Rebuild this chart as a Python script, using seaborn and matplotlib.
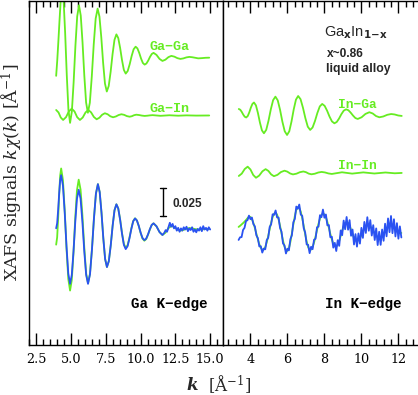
import numpy as np
import matplotlib
matplotlib.use("Agg")
import matplotlib.pyplot as plt
from matplotlib.ticker import MultipleLocator, FormatStrFormatter
import seaborn as sns

# values, k in 1/A, signals in units of 1e-3

# --- Ga K-edge panel ---
k_gaga = [3.93, 4.01, 4.09, 4.17, 4.25, 4.34, 4.458, 4.576, 4.694, 4.812, 4.93, 5.058,
          5.186, 5.314, 5.442, 5.57, 5.698, 5.826, 5.954, 6.082, 6.21, 6.35, 6.49, 6.63,
          6.77, 6.91, 7.042, 7.174, 7.306, 7.438, 7.57, 7.708, 7.846, 7.984, 8.122, 8.26,
          8.394, 8.528, 8.662, 8.796, 8.93, 9.072, 9.214, 9.356, 9.498, 9.64, 9.77, 9.90,
          10.03, 10.16, 10.29, 10.418, 10.546, 10.674, 10.802, 10.93, 11.14, 11.36, 11.57,
          11.78, 12.00, 12.21, 12.43, 12.64, 12.86, 13.07, 13.29, 13.50, 13.71, 13.93,
          14.14, 14.40, 14.67, 14.93]
ga_ga = [-16, -2, 15, 33, 50, 65, 53.3, 22.5, -15.5, -46.3, -58, -48.0, -21.7, 10.7, 37.0,
         47, 37.8, 13.8, -15.8, -39.8, -49, -40.1, -16.9, 11.9, 35.1, 44, 36.9, 18.4, -4.4,
         -22.9, -30, -25.1, -12.4, 3.4, 16.1, 21, 17.7, 8.9, -1.9, -10.7, -14, -11.7, -5.7,
         1.7, 7.7, 10, 8.5, 4.5, -0.5, -4.5, -6, -5.0, -2.4, 0.9, 3.5, 4.5, 2.7, -0.9,
         -2.7, -1.6, 0.7, 1.8, 1.1, -0.2, -0.9, -0.45, 0.45, 0.9, 0.6, 0.1, -0.4, -0.2,
         0.1, 0.2]

k_gain = [3.93, 4.10, 4.26, 4.43, 4.64, 4.84, 5.05, 5.25, 5.44, 5.64, 5.84, 6.04, 6.24,
          6.44, 6.64, 6.84, 7.04, 7.23, 7.43, 7.63, 7.82, 8.02, 8.22, 8.42, 8.62, 8.82,
          9.01, 9.21, 9.37, 9.53, 9.69, 9.89, 10.09, 10.29, 10.48, 10.67, 10.86, 11.43,
          12.07, 12.70, 13.30, 14.00, 14.93]
ga_in = [4.9, 2.7, -1.8, -4.0, -1.5, 3.6, 6.1, 3.6, -1.5, -4.0, -1.8, 2.7, 4.9, 2.8,
         -1.3, -3.4, -2.0, 0.6, 2.0, 1.1, -0.7, -1.6, -0.9, 0.4, 1.1, 0.55, -0.55, -1.1,
         -0.65, 0.25, 0.7, 0.4, -0.1, -0.4, -0.2, 0.1, 0.3, -0.3, 0.2, -0.2, 0.1, -0.1, 0.0]

k_ga_fit = [3.93, 4.002, 4.074, 4.146, 4.218, 4.29, 4.418, 4.546, 4.674, 4.802, 4.93,
            5.054, 5.178, 5.302, 5.426, 5.55, 5.684, 5.818, 5.952, 6.086, 6.22, 6.362,
            6.504, 6.646, 6.788, 6.93, 7.06, 7.19, 7.32, 7.45, 7.58, 7.716, 7.852, 7.988,
            8.124, 8.26, 8.394, 8.528, 8.662, 8.796, 8.93, 9.064, 9.198, 9.332, 9.466, 9.6,
            9.734, 9.868, 10.002, 10.136, 10.27, 10.402, 10.534, 10.666, 10.798, 10.93,
            11.14, 11.36, 11.57, 11.78, 12.00, 12.21, 12.43, 12.64, 12.86, 13.07, 13.29,
            13.50, 13.71, 13.93, 14.14, 14.40, 14.67, 14.93]
ga_fit = [-14, -7.5, 9.5, 30.5, 47.5, 54, 43.6, 16.3, -17.3, -44.6, -55, -45.5, -20.8,
          9.8, 34.5, 44, 35.2, 12.0, -16.5, -39.7, -48.5, -40.0, -17.9, 9.4, 31.5, 40,
          32.9, 14.4, -8.4, -26.9, -34, -28.7, -14.7, 2.7, 16.7, 22, 18.3, 8.5, -3.5,
          -13.3, -17, -14.5, -7.8, 0.3, 7.0, 9.5, 7.6, 2.6, -3.6, -8.6, -10.5, -9.0, -5.1,
          -0.4, 3.5, 5, 2.4, -2.8, -5.4, -3.4, 0.7, 2.7, 1.6, -0.4, -1.5, -0.9, 0.2, 0.8,
          0.5, -0.2, -0.5, -0.4, -0.1, 0]

k_ga_exp = [3.93, 4.002, 4.074, 4.146, 4.218, 4.29, 4.418, 4.546, 4.674, 4.802, 4.93,
            5.054, 5.178, 5.302, 5.426, 5.55, 5.684, 5.818, 5.952, 6.086, 6.22, 6.362,
            6.504, 6.646, 6.788, 6.93, 7.06, 7.19, 7.32, 7.45, 7.58, 7.716, 7.852, 7.988,
            8.124, 8.26, 8.394, 8.528, 8.662, 8.796, 8.93, 9.064, 9.198, 9.332, 9.466, 9.6,
            9.734, 9.868, 10.002, 10.136, 10.27, 10.402, 10.534, 10.666, 10.798, 10.93,
            11.14, 11.36, 11.57,
            11.7, 11.8, 11.9, 12.0, 12.1, 12.2, 12.3, 12.4, 12.5, 12.6, 12.7, 12.8, 12.9,
            13.0, 13.1, 13.2, 13.3, 13.4, 13.5, 13.6, 13.7, 13.8, 13.9, 14.0, 14.1, 14.2,
            14.3, 14.4, 14.5, 14.6, 14.7, 14.8, 14.9, 15.0]
ga_exp = [0.6, 5.1, 17.0, 31.6, 43.5, 48, 38.7, 14.5, -15.5, -39.7, -49, -41.0, -20.0,
          6.0, 27.0, 35, 27.0, 6.0, -20.0, -41.0, -49, -40.5, -18.3, 9.3, 31.5, 40, 32.9,
          14.4, -8.4, -26.9, -34, -28.7, -14.7, 2.7, 16.7, 22, 18.2, 8.2, -4.2, -14.2, -18,
          -15.4, -8.5, -0.1, 6.8, 9.4, 7.5, 2.7, -3.3, -8.1, -10, -8.6, -4.8, -0.2, 3.6, 5,
          2.4, -2.8, -5.4,
          -3.5, -1.0, -2.5, 1.5, 5.5, 2.0, 4.5, 0.5, 2.5, -1.5, 1.0, -2.5, 0.5, -1.5, 1.5,
          -0.5, 2.0, -2.0, 0.5, -1.0, 1.5, -2.5, -0.5, -3.0, 0.0, -1.5, 1.5, -2.0, 2.5,
          -0.5, 1.0, -1.5, 1.5, -0.5]

# --- In K-edge panel ---
k_inga = [3.37, 3.45, 3.53, 3.61, 3.69, 3.77, 3.854, 3.938, 4.022, 4.106, 4.19, 4.298,
          4.406, 4.514, 4.622, 4.73, 4.854, 4.978, 5.102, 5.226, 5.35, 5.476, 5.602, 5.728,
          5.854, 5.98, 6.10, 6.22, 6.34, 6.46, 6.58, 6.71, 6.84, 6.97, 7.10, 7.23, 7.36,
          7.49, 7.62, 7.75, 7.88, 8.012, 8.144, 8.276, 8.408, 8.54, 8.666, 8.792, 8.918,
          9.044, 9.17, 9.296, 9.422, 9.548, 9.674, 9.80, 10.01, 10.22, 10.43, 10.61, 10.79,
          10.97, 11.18, 11.40, 11.61, 11.80, 11.99, 12.18]
in_ga = [5.8, 5.1, 3.2, 0.8, -1.1, -1.8, -0.5, 2.8, 7.0, 10.3, 11.6, 9.0, 2.1, -6.4,
         -13.3, -15.9, -12.8, -4.6, 5.5, 13.7, 16.8, 13.5, 5.0, -5.6, -14.1, -17.4, -14.1,
         -5.4, 5.4, 14.1, 17.4, 14.5, 6.9, -2.4, -10.0, -12.9, -10.7, -4.9, 2.3, 8.1, 10.3,
         8.6, 4.3, -1.0, -5.3, -7.0, -5.8, -2.7, 1.2, 4.3, 5.5, 4.7, 2.5, -0.1, -2.3, -3.1,
         -1.6, 1.4, 2.9, 1.8, -0.5, -1.6, -0.9, 0.6, 1.3, 0.9, 0.0, -0.4]

k_inin = [3.37, 3.53, 3.69, 3.85, 4.00, 4.15, 4.30, 4.47, 4.65, 4.82, 4.97, 5.12, 5.27,
          5.46, 5.65, 5.84, 5.99, 6.15, 6.30, 6.49, 6.67, 6.86, 7.00, 7.15, 7.30, 7.48,
          7.67, 7.85, 8.03, 8.22, 8.40, 8.95, 9.50, 10.10, 10.70, 11.30, 11.80, 12.18]
in_in = [-2.7, -0.6, 3.5, 5.6, 3.1, -1.8, -4.3, -2.4, 1.5, 3.4, 1.8, -1.3, -2.9, -1.7,
         0.8, 2.0, 1.2, -0.5, -1.3, -0.65, 0.65, 1.3, 0.7, -0.6, -1.2, -0.7, 0.4, 0.9,
         0.45, -0.45, -0.9, 0.6, -0.6, 0.5, -0.5, 0.4, -0.3, 0.0]

# In data sampled every 0.08 1/A
k_in_grid = np.round(np.arange(3.36, 12.17, 0.08), 2)
in_fit = [3.6, 4.6, 5.8, 7.0, 8.3, 9.8, 11.4, 12.7,
          12.5, 10.5, 7.1, 2.6, -2.4, -7.4, -11.8, -15.1, -16.8,
          -16.7, -14.4, -10.2, -4.6, 1.6, 7.5, 12.4, 15.4,
          16.3, 14.6, 10.5, 4.7, -2.1, -8.6, -13.9, -17.1,
          -17.8, -15.3, -9.8, -2.3, 5.8, 13.3, 18.8, 21.3,
          20.6, 17.2, 11.5, 4.5, -2.9, -9.5, -14.4, -16.8,
          -16.6, -14.3, -10.3, -5.0, 0.8, 6.4, 11.1, 14.3, 15.6,
          14.8, 12.2, 8.0, 2.8, -2.6, -7.6, -11.4, -13.6,
          -13.9, -12.2, -8.8, -4.5, 0.2, 4.3, 7.0, 8.0,
          7.1, 4.7, 1.2, -2.7, -6.1, -8.3,
          -9.0, -8.2, -6.3, -3.7, -0.7, 2.1, 4.2, 5.3,
          5.2, 4.2, 2.4, 0.2, -2.1, -4.2, -5.6, -6.2,
          -5.9, -4.7, -2.8, -0.5, 1.7, 3.7, 4.9, 5.4,
          5.0, 4.0, 2.6, 1.0, -0.4, -1.4, -1.8]
in_exp = [-8.0, -5.6, -5.5, 0.9, 2.8, 8.9, 9.6, 13.7,
          10.5, 12.0, 6.1, 4.1, -3.9, -6.4, -13.8, -13.6, -19.3,
          -15.7, -16.4, -8.2, -6.1, 3.6, 6.0, 14.9, 14.4,
          18.3, 12.1, 12.0, 2.7, -0.6, -11.1, -12.9, -20.1,
          -15.8, -17.3, -7.3, -3.8, 7.8, 10.8, 21.8, 19.8,
          23.6, 14.7, 13.5, 2.5, -1.4, -12.0, -12.4, -19.8,
          -14.1, -16.3, -7.8, -7.0, 3.3, 3.9, 14.1, 12.3, 19.1,
          11.8, 14.7, 5.0, 5.3, -5.6, -5.1, -14.9, -10.6,
          -17.9, -8.2, -13.3, 0.5, -3.8, 9.3, 1.5, 12.5,
          1.1, 9.7, -4.3, 1.3, -12.1, -2.8,
          -14.0, -2.2, -11.3, 2.8, -6.2, 8.1, -1.8, 12.3,
          0.2, 9.7, -4.1, 5.2, -8.1, 2.3, -12.6, -0.7,
          -12.4, 1.3, -8.8, 6.5, -4.8, 11.2, -1.1, 13.4,
          -2.0, 10.5, -4.9, 7.0, -6.9, 4.1, -5.8]

# vertical offsets of the stacked curves
off_gaga, off_gain, off_ga = 0.2563, 0.2049, 0.1036
off_inga, off_inin, off_in = 0.2049, 0.1536, 0.1018
scalebar = (11.64, 0.1152, 0.025)

GREEN = "#66ec22"
BLUE = "#2a52f2"
LW = 1.3

sns.set_style("ticks")
plt.rcParams["font.family"] = ["DejaVu Serif"]
plt.rcParams["mathtext.fontset"] = "dejavuserif"
plt.rcParams["axes.linewidth"] = 1.0

W, H = 418, 395
fig = plt.figure(figsize=(W / 100, H / 100), dpi=100)
ax1 = fig.add_axes([29.3 / W, 50 / H, 193.4 / W, 344 / H])
ax2 = fig.add_axes([222.7 / W, 50 / H, 195.3 / W, 344 / H])


def trace(ax, k, v, off, color):
    y = off + np.asarray(v, dtype=float) / 1000.0
    sns.lineplot(x=np.asarray(k, dtype=float), y=y, ax=ax, color=color, lw=LW,
                 estimator=None, sort=False)


trace(ax1, k_gaga, ga_ga, off_gaga, GREEN)
trace(ax1, k_gain, ga_in, off_gain, GREEN)
trace(ax1, k_ga_fit, ga_fit, off_ga, GREEN)
trace(ax1, k_ga_exp, ga_exp, off_ga, BLUE)

trace(ax2, k_inga, in_ga, off_inga, GREEN)
trace(ax2, k_inin, in_in, off_inin, GREEN)
trace(ax2, k_in_grid, in_fit, off_in, GREEN)
trace(ax2, k_in_grid, in_exp, off_in, BLUE)

# scale bar
sx, sy, sl = scalebar
ax1.plot([sx, sx], [sy, sy + sl], color="black", lw=1.0)
ax1.plot([sx - 0.22, sx + 0.22], [sy, sy], color="black", lw=1.0)
ax1.plot([sx - 0.22, sx + 0.22], [sy + sl, sy + sl], color="black", lw=1.0)
ax1.text(12.29, 0.1232, "0.025", fontsize=8.5, fontweight="bold",
         family=["Liberation Sans", "DejaVu Sans"], va="baseline")

mono = ["Liberation Mono", "DejaVu Sans Mono"]
ax1.text(10.64, 0.2634, "Ga\u2212Ga", color=GREEN, fontsize=9.6, family=mono,
         fontweight="bold", va="baseline")
ax1.text(10.64, 0.2083, "Ga\u2212In", color=GREEN, fontsize=9.6, family=mono,
         fontweight="bold", va="baseline")
ax1.text(9.34, 0.0328, "Ga K\u2212edge", color="black", fontsize=10.3, family=mono,
         fontweight="bold", va="baseline")
ax2.text(8.76, 0.2113, "In\u2212Ga", color=GREEN, fontsize=9.3, family=mono,
         fontweight="bold", va="baseline")
ax2.text(8.76, 0.1569, "In\u2212In", color=GREEN, fontsize=9.3, family=mono,
         fontweight="bold", va="baseline")
ax2.text(8.05, 0.0328, "In K\u2212edge", color="black", fontsize=10.3, family=mono,
         fontweight="bold", va="baseline")

sans = ["Liberation Sans", "DejaVu Sans"]
ax2.text(8.0, 0.2753, r"Ga$_{\mathbf{x}}$In$_{\mathbf{1\!-\!x}}$", fontsize=10.5,
         family=sans, math_fontfamily="dejavusans", va="baseline")
ax2.text(8.11, 0.2572, "x~0.86", fontsize=8.6, fontweight="bold", family=sans,
         va="baseline")
ax2.text(8.11, 0.2438, "liquid alloy", fontsize=8.8, fontweight="bold", family=sans,
         va="baseline")

for ax in (ax1, ax2):
    ax.set_ylim(0, 0.3071)
    ax.set_xlabel("")
    ax.set_ylabel("")
    ax.tick_params(axis="x", which="both", direction="in", top=True, bottom=True,
                   labelsize=9.2, pad=6, width=1.0, colors="black")
    ax.tick_params(axis="x", which="major", length=8.6)
    ax.tick_params(axis="x", which="minor", length=4.3)
    ax.tick_params(axis="y", which="both", left=False, right=False, labelleft=False)
    for s in ax.spines.values():
        s.set_linewidth(1.0)
        s.set_color("black")

ax1.set_xlim(2.0, 15.9)
ax1.xaxis.set_major_locator(MultipleLocator(2.5))
ax1.xaxis.set_minor_locator(MultipleLocator(0.5))
ax1.xaxis.set_major_formatter(FormatStrFormatter("%.1f"))

ax2.set_xlim(2.5, 13.06)
ax2.xaxis.set_major_locator(MultipleLocator(2))
ax2.xaxis.set_minor_locator(MultipleLocator(0.4))
ax2.spines["right"].set_visible(False)

fig.text(12 / W, (H - 172) / H, r"XAFS signals $k\chi(k)$ [Å$^{-1}$]", rotation=90,
         ha="center", va="center", fontsize=12.5)
fig.text(192 / W, (H - 386) / H, "k", ha="center", va="center", fontsize=12,
         fontstyle="italic", fontweight="bold")
fig.text(230 / W, (H - 385) / H, r"[Å$^{-1}$]", ha="center", va="center", fontsize=12)

fig.savefig("out.png", dpi=100)
